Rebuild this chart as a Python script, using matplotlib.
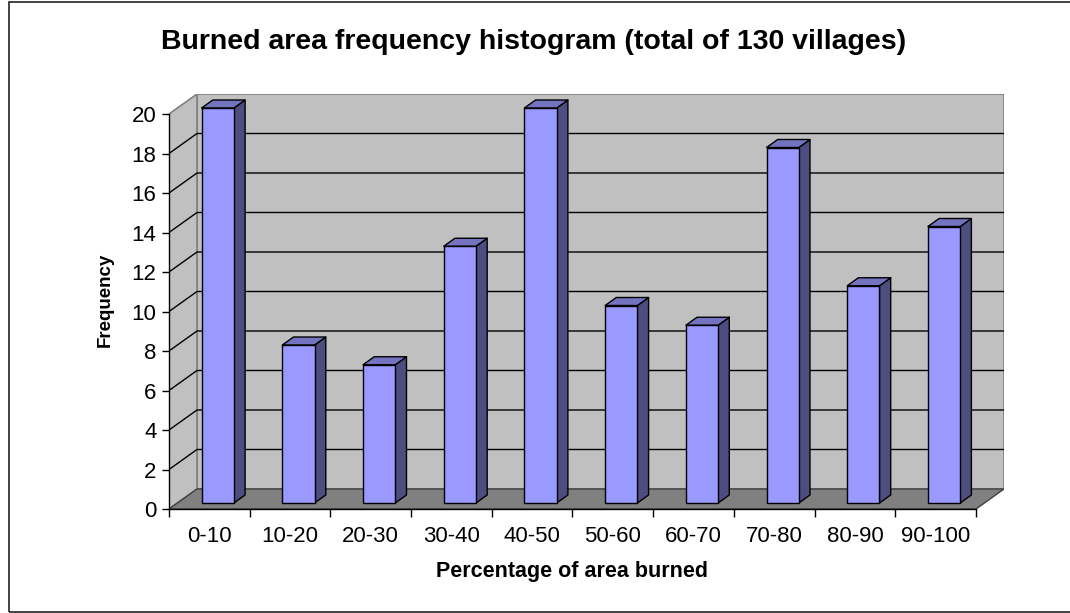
import numpy as np
import matplotlib
matplotlib.use("Agg")
import matplotlib.pyplot as plt
from matplotlib.patches import Polygon, Rectangle

plt.rcParams['font.family'] = ['Liberation Sans', 'DejaVu Sans']

# data
categories = ["0-10", "10-20", "20-30", "30-40", "40-50",
              "50-60", "60-70", "70-80", "80-90", "90-100"]
frequency = [20, 8, 7, 13, 20, 10, 9, 18, 11, 14]
yticks = list(range(0, 21, 2))

# oblique "3D" look: depth direction in data units
DX = 0.347
DY = 1.013
ymax = 20
bar_w = 0.4
d0, d1 = 0.3, 0.7

front = "#9999ff"
top_c = "#7373bf"
side_c = "#4d4d80"


def proj(x, y, d):
    return (x + d * DX, y + d * DY)


fig = plt.figure(figsize=(10.7, 6.13), dpi=100)

# chart area border
fig.patches.append(Rectangle((9 / 1070, 1 / 613), 1.2, 1 - 3 / 613,
                             transform=fig.transFigure, fill=False,
                             edgecolor="#222222", lw=1.2))

ax = fig.add_axes([169 / 1070, 104 / 613, 835 / 1070, 415 / 613])
ax.set_xlim(0, len(categories) + DX)
ax.set_ylim(0, ymax + DY)
ax.patch.set_visible(False)
n = len(categories)

# back wall
ax.add_patch(Polygon([proj(0, 0, 1), proj(n, 0, 1), proj(n, ymax, 1), proj(0, ymax, 1)],
                     closed=True, facecolor="#c0c0c0", edgecolor="#808080", lw=1.2, zorder=1))
# side wall
ax.add_patch(Polygon([proj(0, 0, 0), proj(0, 0, 1), proj(0, ymax, 1), proj(0, ymax, 0)],
                     closed=True, facecolor="#c0c0c0", edgecolor="#808080", lw=1.2, zorder=1))
# floor
ax.add_patch(Polygon([proj(0, 0, 0), proj(n, 0, 0), proj(n, 0, 1), proj(0, 0, 1)],
                     closed=True, facecolor="#808080", edgecolor="#404040", lw=1.0, zorder=1))

# gridlines on walls
for v in yticks[1:-1]:
    pts = [proj(0, v, 0), proj(0, v, 1), proj(n, v, 1)]
    ax.plot([p[0] for p in pts], [p[1] for p in pts], color="black", lw=1.0, zorder=2)

# bars
for i, v in enumerate(frequency):
    xl = i + 0.5 - bar_w / 2
    xr = i + 0.5 + bar_w / 2
    faces = [
        ([proj(xr, 0, d0), proj(xr, v, d0), proj(xr, v, d1), proj(xr, 0, d1)], side_c),
        ([proj(xl, v, d0), proj(xr, v, d0), proj(xr, v, d1), proj(xl, v, d1)], top_c),
        ([proj(xl, 0, d0), proj(xr, 0, d0), proj(xr, v, d0), proj(xl, v, d0)], front),
    ]
    for pts, c in faces:
        ax.add_patch(Polygon(pts, closed=True, facecolor=c, edgecolor="black",
                             lw=1.0, joinstyle="round", zorder=3))

# axes
for s in ["top", "right"]:
    ax.spines[s].set_visible(False)
ax.spines["left"].set_bounds(0, ymax)
ax.spines["bottom"].set_bounds(0, n)
for s in ["left", "bottom"]:
    ax.spines[s].set_linewidth(1.0)
    ax.spines[s].set_zorder(4)

ax.set_yticks(yticks)
ax.set_yticklabels([str(t) for t in yticks])
ax.set_xticks(np.arange(0, n + 1))
ax.set_xticklabels([])
ax.set_xticks(np.arange(n) + 0.5, minor=True)
ax.set_xticklabels(categories, minor=True)
ax.tick_params(axis="y", direction="out", length=5, width=1.0, labelsize=16, pad=4)
ax.tick_params(axis="x", which="major", direction="out", length=6, width=1.0)
ax.tick_params(axis="x", which="minor", length=0, labelsize=16, pad=12)

fig.text(534 / 1070, 1 - 42 / 613, "Burned area frequency histogram (total of 130 villages)",
         ha="center", va="center", fontsize=20.5, fontweight="bold")
fig.text(572 / 1070, 1 - 571 / 613, "Percentage of area burned",
         ha="center", va="center", fontsize=15.5, fontweight="bold")
fig.text(105 / 1070, 1 - 300 / 613, "Frequency", rotation=90,
         ha="center", va="center", fontsize=13.5, fontweight="bold")

fig.savefig("out.png", dpi=100)
